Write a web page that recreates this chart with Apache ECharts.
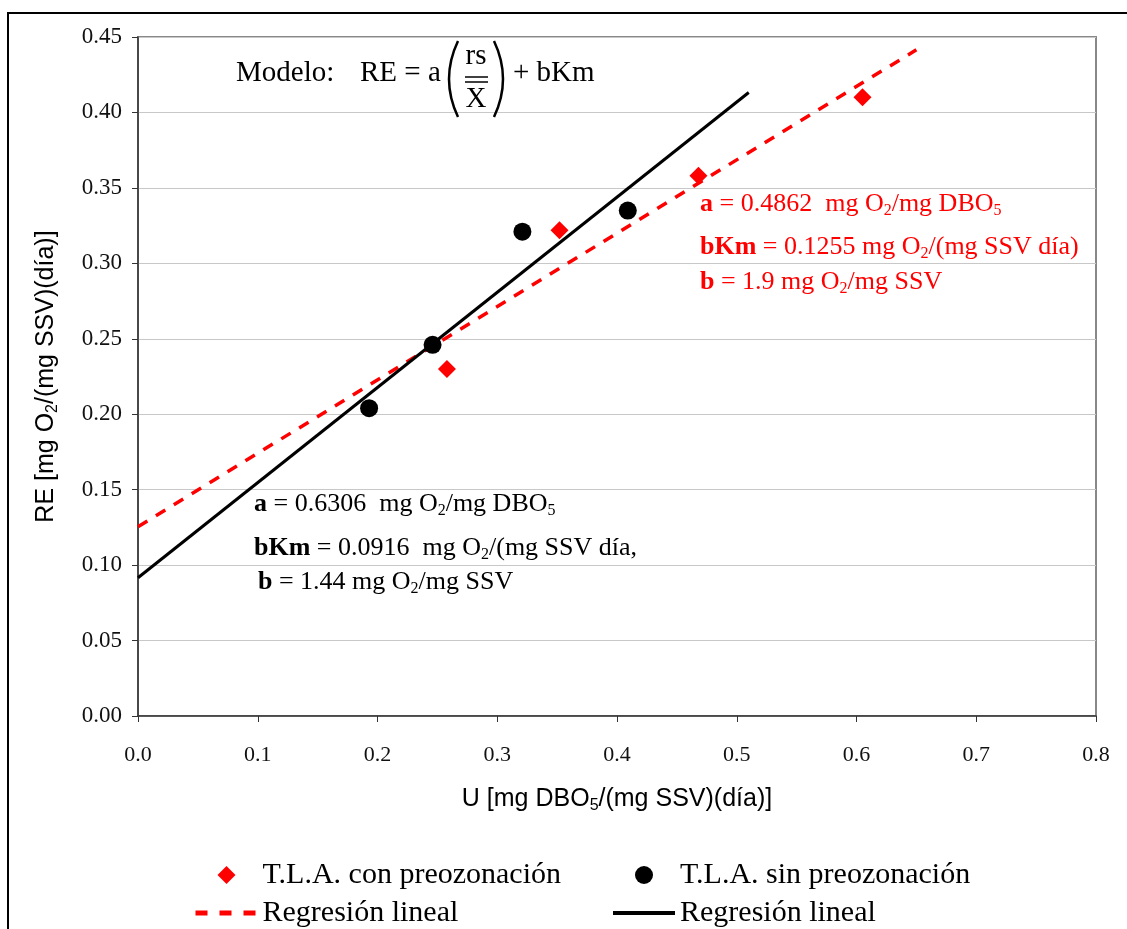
<!DOCTYPE html>
<html>
<head>
<meta charset="utf-8">
<script src="https://cdn.jsdelivr.net/npm/echarts@6/dist/echarts.min.js"></script>
<style>
  html, body { margin: 0; padding: 0; background: #fff; }
  #chart { width: 1127px; height: 929px; }
</style>
</head>
<body>
<div id="chart"></div>
<script>
// datos
var conX = [0.258, 0.352, 0.468, 0.605];
var conY = [0.230, 0.322, 0.358, 0.410];
var sinX = [0.193, 0.246, 0.321, 0.409];
var sinY = [0.204, 0.246, 0.321, 0.335];

// regresiones: y = bKm + a*x, dibujadas entre los extremos del rango
var regCon = { a: 0.4862, bKm: 0.1255, x: [0, 0.65] };
var regSin = { a: 0.6306, bKm: 0.0916, x: [0, 0.51] };

var xTicks = [0, 0.1, 0.2, 0.3, 0.4, 0.5, 0.6, 0.7, 0.8];
var yTicks = [0, 0.05, 0.10, 0.15, 0.20, 0.25, 0.30, 0.35, 0.40, 0.45];

function pares(xs, ys) {
  return xs.map(function (x, i) { return [x, ys[i]]; });
}
function recta(r) {
  return r.x.map(function (x) { return [x, r.bKm + r.a * x]; });
}

var serif = 'Liberation Serif';
var sans = 'Liberation Sans';

function fila(x, y, color, txt) {
  return {
    type: 'text',
    left: x,
    top: y,
    z: 10,
    style: {
      text: txt,
      fill: color,
      font: '26px ' + serif,
      rich: {
        b: { fontWeight: 'bold', fontFamily: serif, fontSize: 26, fill: color, lineHeight: 30 },
        t: { fontFamily: serif, fontSize: 26, fill: color, lineHeight: 30 },
        s: { fontFamily: serif, fontSize: 16, fill: color, lineHeight: 18, padding: [14, 0, 0, 0] }
      }
    }
  };
}

var legendFmt = function (n) { return n.indexOf('reg') === 0 ? 'Regresión lineal' : n; };
var diamante = 'path://M0,-1L1,0L0,1L-1,0Z';

var myChart = echarts.init(document.getElementById('chart'));
var option = {
  animation: false,
  backgroundColor: '#fff',
  grid: {
    left: 138, top: 37, right: 31, bottom: 213,
    show: true, borderColor: '#888', borderWidth: 2
  },
  xAxis: {
    type: 'value',
    min: 0, max: 0.8, interval: 0.1,
    name: 'U [mg DBO{s|5}/(mg SSV)(día)]',
    nameLocation: 'middle',
    nameGap: 71,
    nameTextStyle: {
      fontFamily: sans, fontSize: 25, color: '#000',
      rich: { s: { fontFamily: sans, fontSize: 16, lineHeight: 18, padding: [12, 0, 0, 0] } }
    },
    splitLine: { show: false },
    axisLine: { lineStyle: { color: '#333', width: 1.5 } },
    axisTick: { inside: false, length: 6, lineStyle: { color: '#333' } },
    axisLabel: {
      margin: 28, fontFamily: serif, fontSize: 22, color: '#111',
      formatter: function (v) { return v.toFixed(1); }
    }
  },
  yAxis: {
    type: 'value',
    min: 0, max: 0.45, interval: 0.05,
    name: 'RE [mg O{s|2}/(mg SSV)(día)]',
    nameLocation: 'middle',
    nameRotate: 90,
    nameGap: 79,
    nameTextStyle: {
      fontFamily: sans, fontSize: 25, color: '#000',
      rich: { s: { fontFamily: sans, fontSize: 16, lineHeight: 18, padding: [12, 0, 0, 0] } }
    },
    splitLine: { show: true, lineStyle: { color: '#c8c8c8', width: 1 } },
    axisLine: { show: true, lineStyle: { color: '#333', width: 1.5 } },
    axisTick: { show: true, inside: false, length: 6, lineStyle: { color: '#333' } },
    axisLabel: {
      margin: 16, fontFamily: serif, fontSize: 23, color: '#111',
      formatter: function (v) { return v.toFixed(2); }
    }
  },
  legend: [
    {
      orient: 'vertical', left: 188, top: 855, height: 90,
      itemWidth: 62, itemHeight: 18, itemGap: 8,
      symbolKeepAspect: true,
      textStyle: { fontFamily: serif, fontSize: 30, color: '#000' },
      data: [
        { name: 'T.L.A. con preozonación', icon: diamante },
        { name: 'regCon', itemStyle: { color: 'rgba(0,0,0,0)', borderWidth: 0 },
          lineStyle: { width: 5, type: [12, 12] } }
      ],
      formatter: legendFmt
    },
    {
      orient: 'vertical', left: 606, top: 855, height: 90,
      itemWidth: 62, itemHeight: 18, itemGap: 8,
      symbolKeepAspect: true,
      textStyle: { fontFamily: serif, fontSize: 30, color: '#000' },
      data: [
        { name: 'T.L.A. sin preozonación' },
        { name: 'regSin', itemStyle: { color: 'rgba(0,0,0,0)', borderWidth: 0 },
          lineStyle: { width: 4 } }
      ],
      formatter: legendFmt
    }
  ],
  graphic: [
    {
      type: 'rect', z: -1, silent: true,
      shape: { x: 8, y: 13, width: 1200, height: 1000 },
      style: { fill: 'none', stroke: '#000', lineWidth: 2 }
    },
    // modelo
    { type: 'text', left: 236, top: 59, z: 10, style: { text: 'Modelo:', font: '29px ' + serif, fill: '#000' } },
    { type: 'text', left: 360, top: 59, z: 10, style: { text: 'RE = a', font: '29px ' + serif, fill: '#000' } },
    { type: 'bezierCurve', z: 10, shape: { x1: 458, y1: 41, x2: 458, y2: 117, cpx1: 440, cpy1: 79 }, style: { stroke: '#000', lineWidth: 2.5, fill: 'none' } },
    { type: 'bezierCurve', z: 10, shape: { x1: 494, y1: 41, x2: 494, y2: 117, cpx1: 512, cpy1: 79 }, style: { stroke: '#000', lineWidth: 2.5, fill: 'none' } },
    { type: 'text', x: 476, y: 42, z: 10, style: { text: 'rs', font: '29px ' + serif, fill: '#000', align: 'center' } },
    { type: 'line', z: 10, shape: { x1: 465, y1: 77, x2: 488, y2: 77 }, style: { stroke: '#000', lineWidth: 1.5 } },
    { type: 'line', z: 10, shape: { x1: 465, y1: 82, x2: 488, y2: 82 }, style: { stroke: '#000', lineWidth: 1.5 } },
    { type: 'text', x: 476, y: 85, z: 10, style: { text: 'X', font: '29px ' + serif, fill: '#000', align: 'center' } },
    { type: 'text', left: 513, top: 59, z: 10, style: { text: '+ bKm', font: '29px ' + serif, fill: '#000' } },
    // anotaciones rojas
    fila(700, 189, '#ff0000', '{b|a}{t| = 0.4862  mg O}{s|2}{t|/mg DBO}{s|5}'),
    fila(700, 232, '#ff0000', '{b|bKm}{t| = 0.1255 mg O}{s|2}{t|/(mg SSV día)}'),
    fila(700, 267, '#ff0000', '{b|b}{t| = 1.9 mg O}{s|2}{t|/mg SSV}'),
    // anotaciones negras
    fila(254, 489, '#000', '{b|a}{t| = 0.6306  mg O}{s|2}{t|/mg DBO}{s|5}'),
    fila(254, 533, '#000', '{b|bKm}{t| = 0.0916  mg O}{s|2}{t|/(mg SSV día,}'),
    fila(258, 567, '#000', '{b|b}{t| = 1.44 mg O}{s|2}{t|/mg SSV}')
  ],
  series: [
    {
      name: 'regCon', type: 'line', data: recta(regCon),
      symbol: 'none', z: 2,
      lineStyle: { color: '#ff0000', width: 3.5, type: [11, 10] },
      itemStyle: { color: '#ff0000' }
    },
    {
      name: 'regSin', type: 'line', data: recta(regSin),
      symbol: 'none', z: 2,
      lineStyle: { color: '#000', width: 3 },
      itemStyle: { color: '#000' }
    },
    {
      name: 'T.L.A. con preozonación', type: 'scatter', data: pares(conX, conY),
      symbol: 'diamond', symbolSize: 18, z: 3,
      itemStyle: { color: '#ff0000', opacity: 1 }
    },
    {
      name: 'T.L.A. sin preozonación', type: 'scatter', data: pares(sinX, sinY),
      symbol: 'circle', symbolSize: 18, z: 3,
      itemStyle: { color: '#000', opacity: 1 }
    }
  ]
};
myChart.setOption(option);
</script>
</body>
</html>
